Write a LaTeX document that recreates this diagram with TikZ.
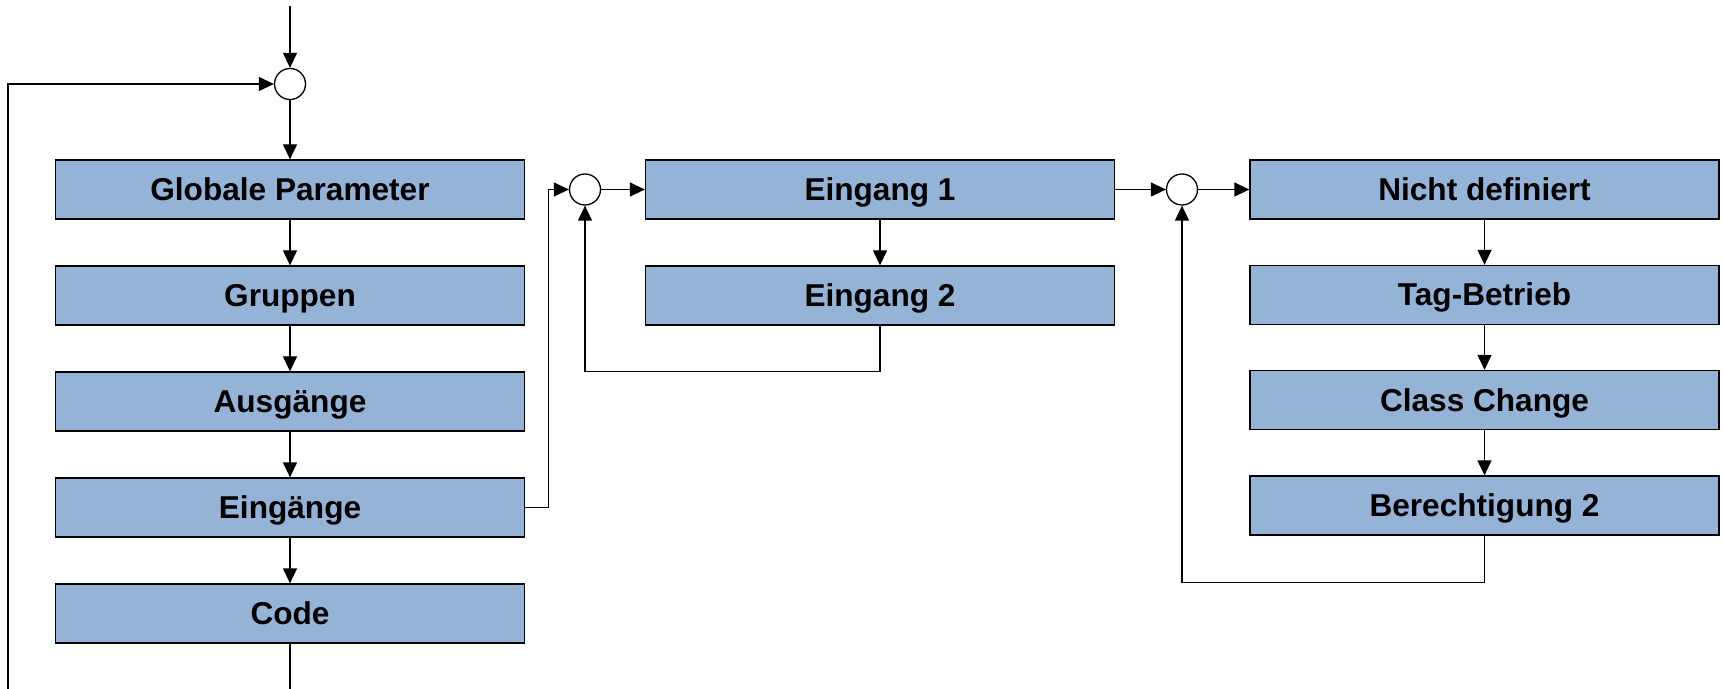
\documentclass[tikz,border=0pt]{standalone}
\usepackage{fontspec}
\setmainfont{Liberation Sans}
\usetikzlibrary{arrows.meta}
\definecolor{boxblue}{RGB}{149, 179, 215}

\begin{document}
\begin{tikzpicture}[x=0.5pt, y=-0.5pt,
                    blk/.style={draw, line width=0.65pt, fill=boxblue, minimum width=234.5pt, minimum height=29.5pt, inner sep=0pt, text height=11pt, text depth=0pt, font=\fontsize{15.8}{18}\selectfont\bfseries},
                    sum/.style={draw, circle, line width=0.65pt, fill=white, minimum size=15.5pt, inner sep=0pt},
                    arr/.style={line width=0.65pt, -{Triangle[length=7.5pt, width=7pt]}}]
                    \useasboundingbox (0,0) rectangle (1723,689);
                    \coordinate (top) at (290,6);
                    \coordinate (bl) at (8,689);
                    \coordinate (bot) at (290,689);
                    \node[sum] (cA) at (290,84) {};
                    \node[blk] (glob) at (290,189.5) {Globale Parameter};
                    \node[blk] (grup) at (290,295.5) {Gruppen};
                    \node[blk] (ausg) at (290,401.5) {Ausgänge};
                    \node[blk] (eing) at (290,507.5) {Eingänge};
                    \node[blk] (code) at (290,613.5) {Code};
                    \node[sum] (cB) at (585,189.5) {};
                    \node[blk] (e1) at (880,189.5) {Eingang 1};
                    \node[blk] (e2) at (880,295.5) {Eingang 2};
                    \node[sum] (cC) at (1182,189.5) {};
                    \node[blk] (nd) at (1484.5,189.5) {Nicht definiert};
                    \node[blk] (tag) at (1484.5,295) {Tag-Betrieb};
                    \node[blk] (cls) at (1484.5,400) {Class Change};
                    \node[blk] (ber) at (1484.5,505.5) {Berechtigung 2};
                    \draw[arr] (top) -- (cA);
                    \draw[arr] (bl) |- (cA);
                    \draw[arr] (cA) -- (glob);
                    \draw[arr] (glob) -- (grup);
                    \draw[arr] (grup) -- (ausg);
                    \draw[arr] (ausg) -- (eing);
                    \draw[arr] (eing) -- (code);
                    \draw[line width=0.65pt] (code) -- (bot);
                    \draw[arr] (eing.east) -- ++(23,0) |- (cB);
                    \draw[arr] (cB) -- (e1);
                    \draw[arr] (e1) -- (e2);
                    \draw[arr] (e2.south) -- ++(0,46) -| (cB);
                    \draw[arr] (e1) -- (cC);
                    \draw[arr] (cC) -- (nd);
                    \draw[arr] (nd) -- (tag);
                    \draw[arr] (tag) -- (cls);
                    \draw[arr] (cls) -- (ber);
                    \draw[arr] (ber.south) -- ++(0,47) -| (cC);
                \end{tikzpicture}
\end{document}
